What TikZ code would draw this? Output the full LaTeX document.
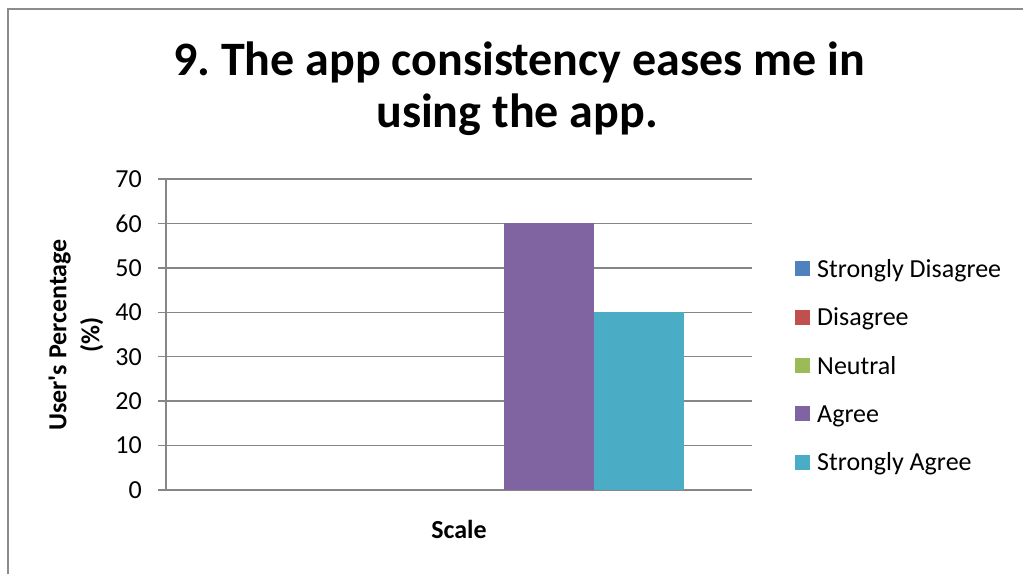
\documentclass[tikz,border=0pt]{standalone}
\usepackage{fontspec}
\setmainfont{Carlito}
\frenchspacing
\definecolor{axisgray}{HTML}{868686}
\definecolor{framegray}{HTML}{8C8C8C}
\definecolor{sdis}{HTML}{4F81BD}
\definecolor{dis}{HTML}{C0504D}
\definecolor{neu}{HTML}{9BBB59}
\definecolor{agr}{HTML}{8064A2}
\definecolor{sagr}{HTML}{4BACC6}
\begin{document}
\begin{tikzpicture}[x=1pt,y=-1pt,
  gridline/.style={draw=axisgray,line width=1.3pt},
  ticklab/.style={anchor=east,inner sep=0pt,font=\fontsize{26}{30}\selectfont},
  legsq/.style={minimum size=15pt,inner sep=0pt,draw=none},
  legtext/.style={anchor=base west,inner sep=0pt,font=\fontsize{26}{30}\selectfont},
  bar/.style={draw=none}]
\useasboundingbox (0,0) rectangle (1023,574);
% chart frame
\draw[framegray,line width=1.5pt] (8,574) -- (8,9) -- (1023,9);

% title
\node[anchor=base,inner sep=0pt,font=\bfseries\fontsize{48}{52}\selectfont] (title1) at (519,75) {9. The app consistency eases me in};
\node[anchor=base,inner sep=0pt,font=\bfseries\fontsize{48}{52}\selectfont] (title2) at (517,127) {using the app.};

% gridlines, ticks and value labels
\foreach \v [evaluate=\v as \yy using 490-\v*44.43] in {0,...,7}{
  \draw[gridline] (158,\yy) -- (752,\yy);
  \node[ticklab] (lab\v) at (142,\yy) {\the\numexpr\v*10\relax};
}
\draw[gridline] (166,179.3) -- (166,490);

% bars (only Agree and Strongly Agree are non-zero)
\fill[agr]  (504.1,490) rectangle (594.3,223.4);
\fill[sagr] (594.3,490) rectangle (684.4,312.3);

% axis titles
\node[rotate=90,align=center,inner sep=0pt,font=\bfseries\fontsize{26}{33}\selectfont] (ytitle) at (76,335) {User\textquotesingle s Percentage\\(\%)};
\node[anchor=base,inner sep=0pt,font=\bfseries\fontsize{26}{30}\selectfont] (xtitle) at (459,538) {Scale};

% legend
\foreach \c/\t/\yy [count=\i] in {sdis/Strongly Disagree/268.5, dis/Disagree/317, neu/Neutral/365.5, agr/Agree/413.5, sagr/Strongly Agree/462}{
  \node[legsq,fill=\c] (sq\i) at (802.5,\yy) {};
  \node[legtext] (lt\i) at (817,\yy+8.5) {\t};
}
\end{tikzpicture}
\end{document}
